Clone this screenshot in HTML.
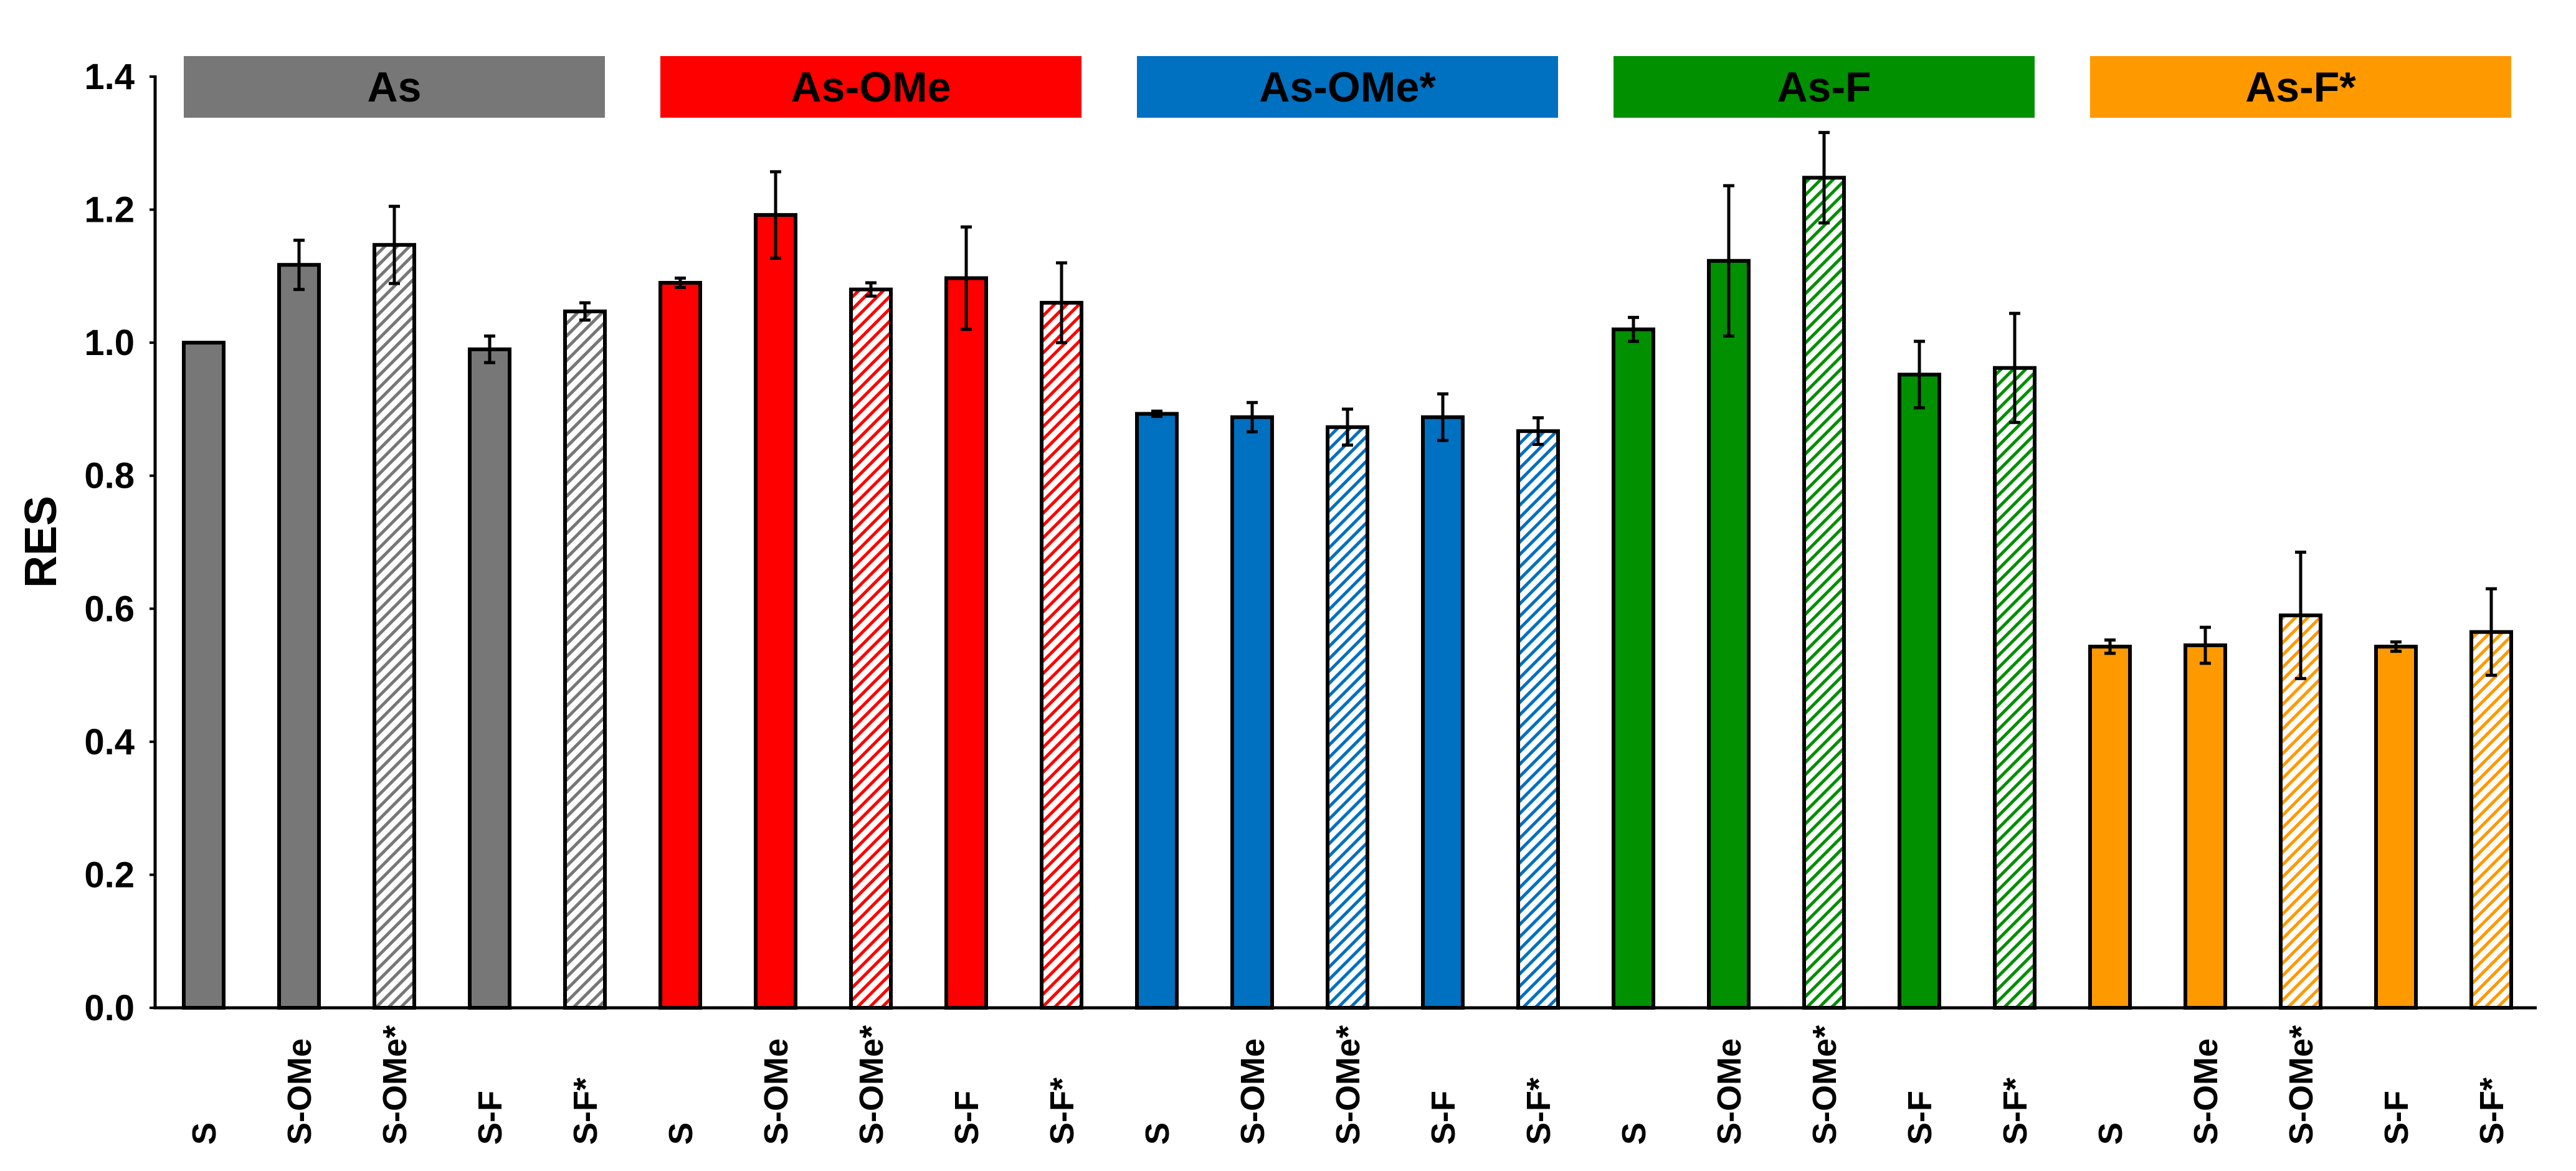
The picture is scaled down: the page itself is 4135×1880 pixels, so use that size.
<!DOCTYPE html>
<html><head><meta charset="utf-8">
<style>
html,body{margin:0;padding:0;background:#fff;}
svg{display:block;font-family:"Liberation Sans",Arial,sans-serif;font-weight:bold;}
</style></head>
<body>
<svg id="chart" width="4135" height="1880" viewBox="0 0 4135 1880" xmlns="http://www.w3.org/2000/svg">
<defs>
<pattern id="h-gray" patternUnits="userSpaceOnUse" width="14" height="14" patternTransform="rotate(45)"><rect width="14" height="14" fill="#fff"/><rect width="5" height="14" fill="#777"/></pattern>
<pattern id="h-red" patternUnits="userSpaceOnUse" width="14" height="14" patternTransform="rotate(45)"><rect width="14" height="14" fill="#fff"/><rect width="5" height="14" fill="#ff0000"/></pattern>
<pattern id="h-blue" patternUnits="userSpaceOnUse" width="14" height="14" patternTransform="rotate(45)"><rect width="14" height="14" fill="#fff"/><rect width="5" height="14" fill="#0070c0"/></pattern>
<pattern id="h-green" patternUnits="userSpaceOnUse" width="14" height="14" patternTransform="rotate(45)"><rect width="14" height="14" fill="#fff"/><rect width="5" height="14" fill="#009000"/></pattern>
<pattern id="h-orange" patternUnits="userSpaceOnUse" width="14" height="14" patternTransform="rotate(45)"><rect width="14" height="14" fill="#fff"/><rect width="5" height="14" fill="#ff9900"/></pattern>
</defs>
<g id="plot"></g>
</svg>
<script>
const groups = ["As","As-OMe","As-OMe*","As-F","As-F*"];
const categories = ["S","S-OMe","S-OMe*","S-F","S-F*"];
const hatched = [false,false,true,false,true];
const valuesAs = [1.0,1.117,1.147,0.99,1.047];
const errorsAs = [0.0,0.037,0.058,0.02,0.013];
const valuesAsOMe = [1.09,1.192,1.08,1.097,1.06];
const errorsAsOMe = [0.007,0.065,0.01,0.077,0.06];
const valuesAsOMeStar = [0.893,0.888,0.873,0.888,0.867];
const errorsAsOMeStar = [0.004,0.022,0.027,0.035,0.02];
const valuesAsF = [1.02,1.123,1.248,0.952,0.962];
const errorsAsF = [0.018,0.113,0.068,0.05,0.082];
const valuesAsFStar = [0.543,0.545,0.59,0.543,0.565];
const errorsAsFStar = [0.01,0.027,0.095,0.007,0.065];
const yTicks = ["0.0","0.2","0.4","0.6","0.8","1.0","1.2","1.4"];

const allValues = [valuesAs,valuesAsOMe,valuesAsOMeStar,valuesAsF,valuesAsFStar];
const allErrors = [errorsAs,errorsAsOMe,errorsAsOMeStar,errorsAsF,errorsAsFStar];
const colors = ["#777777","#ff0000","#0070c0","#009000","#ff9900"];
const hatchIds = ["h-gray","h-red","h-blue","h-green","h-orange"];

const X0 = 327, STEP = 153, BW = 64;
const Y0 = 1618, YTOP = 123, YMAX = 1.4;
function xPos(i){ return X0 + i*STEP; }
function yPos(v){ return Y0 - (v/YMAX)*(Y0-YTOP); }

const NS = "http://www.w3.org/2000/svg";
const g = document.getElementById('plot');
function mk(tag, attrs, parent){
  const e = document.createElementNS(NS, tag);
  for (const k in attrs) e.setAttribute(k, attrs[k]);
  (parent||g).appendChild(e);
  return e;
}

// y axis ticks and labels
yTicks.forEach(t => {
  const y = yPos(parseFloat(t));
  const tk = mk('line',{x1:240,x2:249,y1:y,y2:y,stroke:'#000','stroke-width':4});
  
  
  const tx = mk('text',{x:216,y:y+20,'text-anchor':'end','font-size':58});
  tx.textContent = t;
  
  
});

const yt = mk('text',{x:0,y:0,'text-anchor':'middle','font-size':72,transform:'translate(90,870) rotate(-90)'});
yt.textContent = 'RES';



// bars
groups.forEach((gn, gi) => {
  const first = gi*5, last = gi*5+4;
  const hx = xPos(first)-BW/2, hw = xPos(last)+BW/2-hx;
  const hr = mk('rect',{x:hx,y:90,width:hw,height:99,fill:colors[gi]});
  
  
  const ht = mk('text',{x:hx+hw/2,y:163,'text-anchor':'middle','font-size':68,fill:'#000'});
  ht.textContent = gn;
  
  

  categories.forEach((c, ci) => {
    const i = gi*5+ci;
    const cx = xPos(i);
    const v = allValues[gi][ci], e = allErrors[gi][ci];
    const top = yPos(v);
    const r = mk('rect',{x:cx-BW/2,y:top,width:BW,height:Y0-top,
      fill: hatched[ci] ? 'url(#'+hatchIds[gi]+')' : colors[gi], stroke:'#000','stroke-width':6});
    
    
    if (e > 0) {
      const y1 = yPos(v+e), y2 = yPos(v-e);
      const eg = mk('g',{stroke:'#000','stroke-width':5});
      
      
      mk('line',{x1:cx,x2:cx,y1:y1,y2:y2},eg);
      mk('line',{x1:cx-9,x2:cx+9,y1:y1,y2:y1},eg);
      mk('line',{x1:cx-9,x2:cx+9,y1:y2,y2:y2},eg);
    }
    const lt = mk('text',{x:0,y:0,'text-anchor':'start','font-size':54,
      transform:'translate('+(cx+19)+',1838) rotate(-90)'});
    lt.textContent = c;
    
    
  });
});

// axes
const ya = mk('line',{x1:249,x2:249,y1:121,y2:1620,stroke:'#000','stroke-width':5});


const xa = mk('line',{x1:246,x2:4072,y1:1618,y2:1618,stroke:'#000','stroke-width':5});


</script>
</body></html>
